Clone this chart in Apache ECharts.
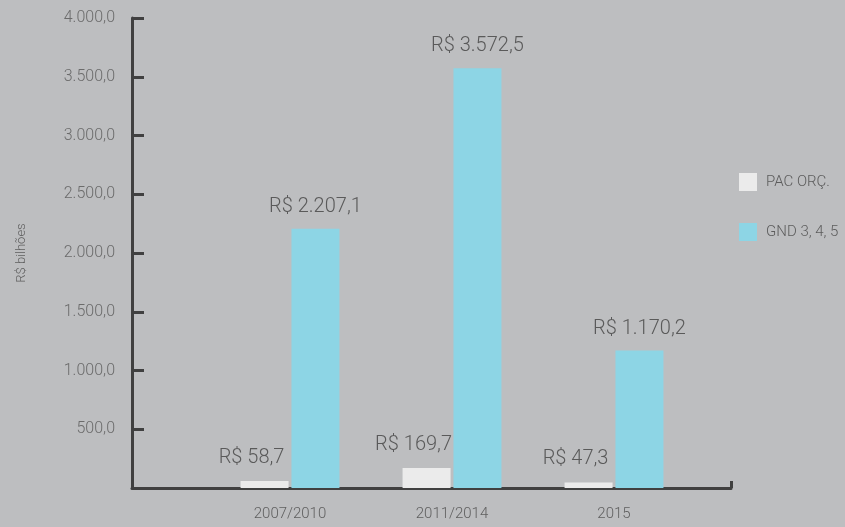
<!DOCTYPE html>
<html>
<head>
<meta charset="utf-8">
<script src="https://cdn.jsdelivr.net/npm/echarts@6/dist/echarts.min.js"></script>
<style>
  html, body { margin: 0; padding: 0; background: #bdbec0; }
  #chart { width: 845px; height: 527px; }
</style>
</head>
<body>
<div id="chart"></div>
<script>
// dados
var categories = ['2007/2010', '2011/2014', '2015'];
var pacOrc = [58.7, 169.7, 47.3];
var gnd345 = [2207.1, 3572.5, 1170.2];
var seriesNames = ['PAC ORÇ.', 'GND 3, 4, 5'];

var FONT = 'Roboto, "Noto Sans", sans-serif';
var W = 300;

// formato brasileiro: 3.572,5
function br(v) {
    var s = v.toFixed(1).split('.');
    var inteiro = s[0].replace(/\B(?=(\d{3})+(?!\d))/g, '.');
    return inteiro + ',' + s[1];
}

var myChart = echarts.init(document.getElementById('chart'));

var option = {
    backgroundColor: '#bdbec0',
    textStyle: { fontFamily: FONT, fontWeight: W },
    legend: {
        orient: 'vertical',
        left: 734,
        top: 168,
        itemWidth: 18,
        itemHeight: 18,
        itemGap: 32,
        icon: 'rect',
        textStyle: { color: '#5c5c5c', fontSize: 15, fontFamily: FONT, fontWeight: W, padding: [0, 0, 0, 4] },
        data: seriesNames
    },
    grid: [
        { left: 209, right: 150, top: 18, bottom: 39 },
        { left: 132, right: 114, top: 18, bottom: 39 }
    ],
    xAxis: [
        {
            type: 'category',
            gridIndex: 0,
            data: categories,
            axisLine: { show: false },
            axisTick: { show: false },
            axisLabel: { color: '#5f5f5f', fontSize: 15, margin: 19, fontFamily: FONT, fontWeight: W }
        },
        {
            type: 'value',
            gridIndex: 1,
            min: 0,
            max: 1,
            interval: 1,
            axisLine: { show: true, lineStyle: { color: '#404040', width: 3 } },
            axisTick: { show: true, inside: true, length: 7, lineStyle: { color: '#404040', width: 3 } },
            axisLabel: { show: false },
            splitLine: { show: false }
        }
    ],
    yAxis: [
        {
            type: 'value',
            gridIndex: 0,
            min: 0,
            max: 4000,
            interval: 500,
            offset: 77,
            name: 'R$ bilhões',
            nameLocation: 'middle',
            nameGap: 104,
            nameTextStyle: { color: '#5f5f5f', fontSize: 13, fontFamily: FONT, fontWeight: W },
            axisLine: { show: true, lineStyle: { color: '#404040', width: 3 } },
            axisTick: { show: true, inside: true, length: 12, lineStyle: { color: '#404040', width: 3 } },
            axisLabel: {
                color: '#6b6b6b',
                fontSize: 16,
                margin: 17,
                fontFamily: FONT,
                fontWeight: W,
                showMinLabel: false,
                formatter: function (v) { return v === 0 ? '' : br(v); }
            },
            splitLine: { show: false }
        },
        {
            type: 'value',
            gridIndex: 1,
            show: false
        }
    ],
    series: [
        {
            name: seriesNames[0],
            type: 'bar',
            xAxisIndex: 0,
            yAxisIndex: 0,
            barWidth: 48,
            barGap: '6%',
            itemStyle: { color: '#ebebeb' },
            label: {
                show: true,
                position: 'top',
                distance: 13,
                offset: [-13, 0],
                color: '#5a5a5a',
                fontSize: 20,
                fontFamily: FONT,
                fontWeight: W,
                formatter: function (p) { return 'R$ ' + br(p.value); }
            },
            data: pacOrc
        },
        {
            name: seriesNames[1],
            type: 'bar',
            xAxisIndex: 0,
            yAxisIndex: 0,
            barWidth: 48,
            itemStyle: { color: '#8dd5e5' },
            label: {
                show: true,
                position: 'top',
                distance: 12,
                color: '#5a5a5a',
                fontSize: 20,
                fontFamily: FONT,
                fontWeight: W,
                formatter: function (p) { return 'R$ ' + br(p.value); }
            },
            data: gnd345
        }
    ]
};

myChart.setOption(option);
</script>
</body>
</html>
